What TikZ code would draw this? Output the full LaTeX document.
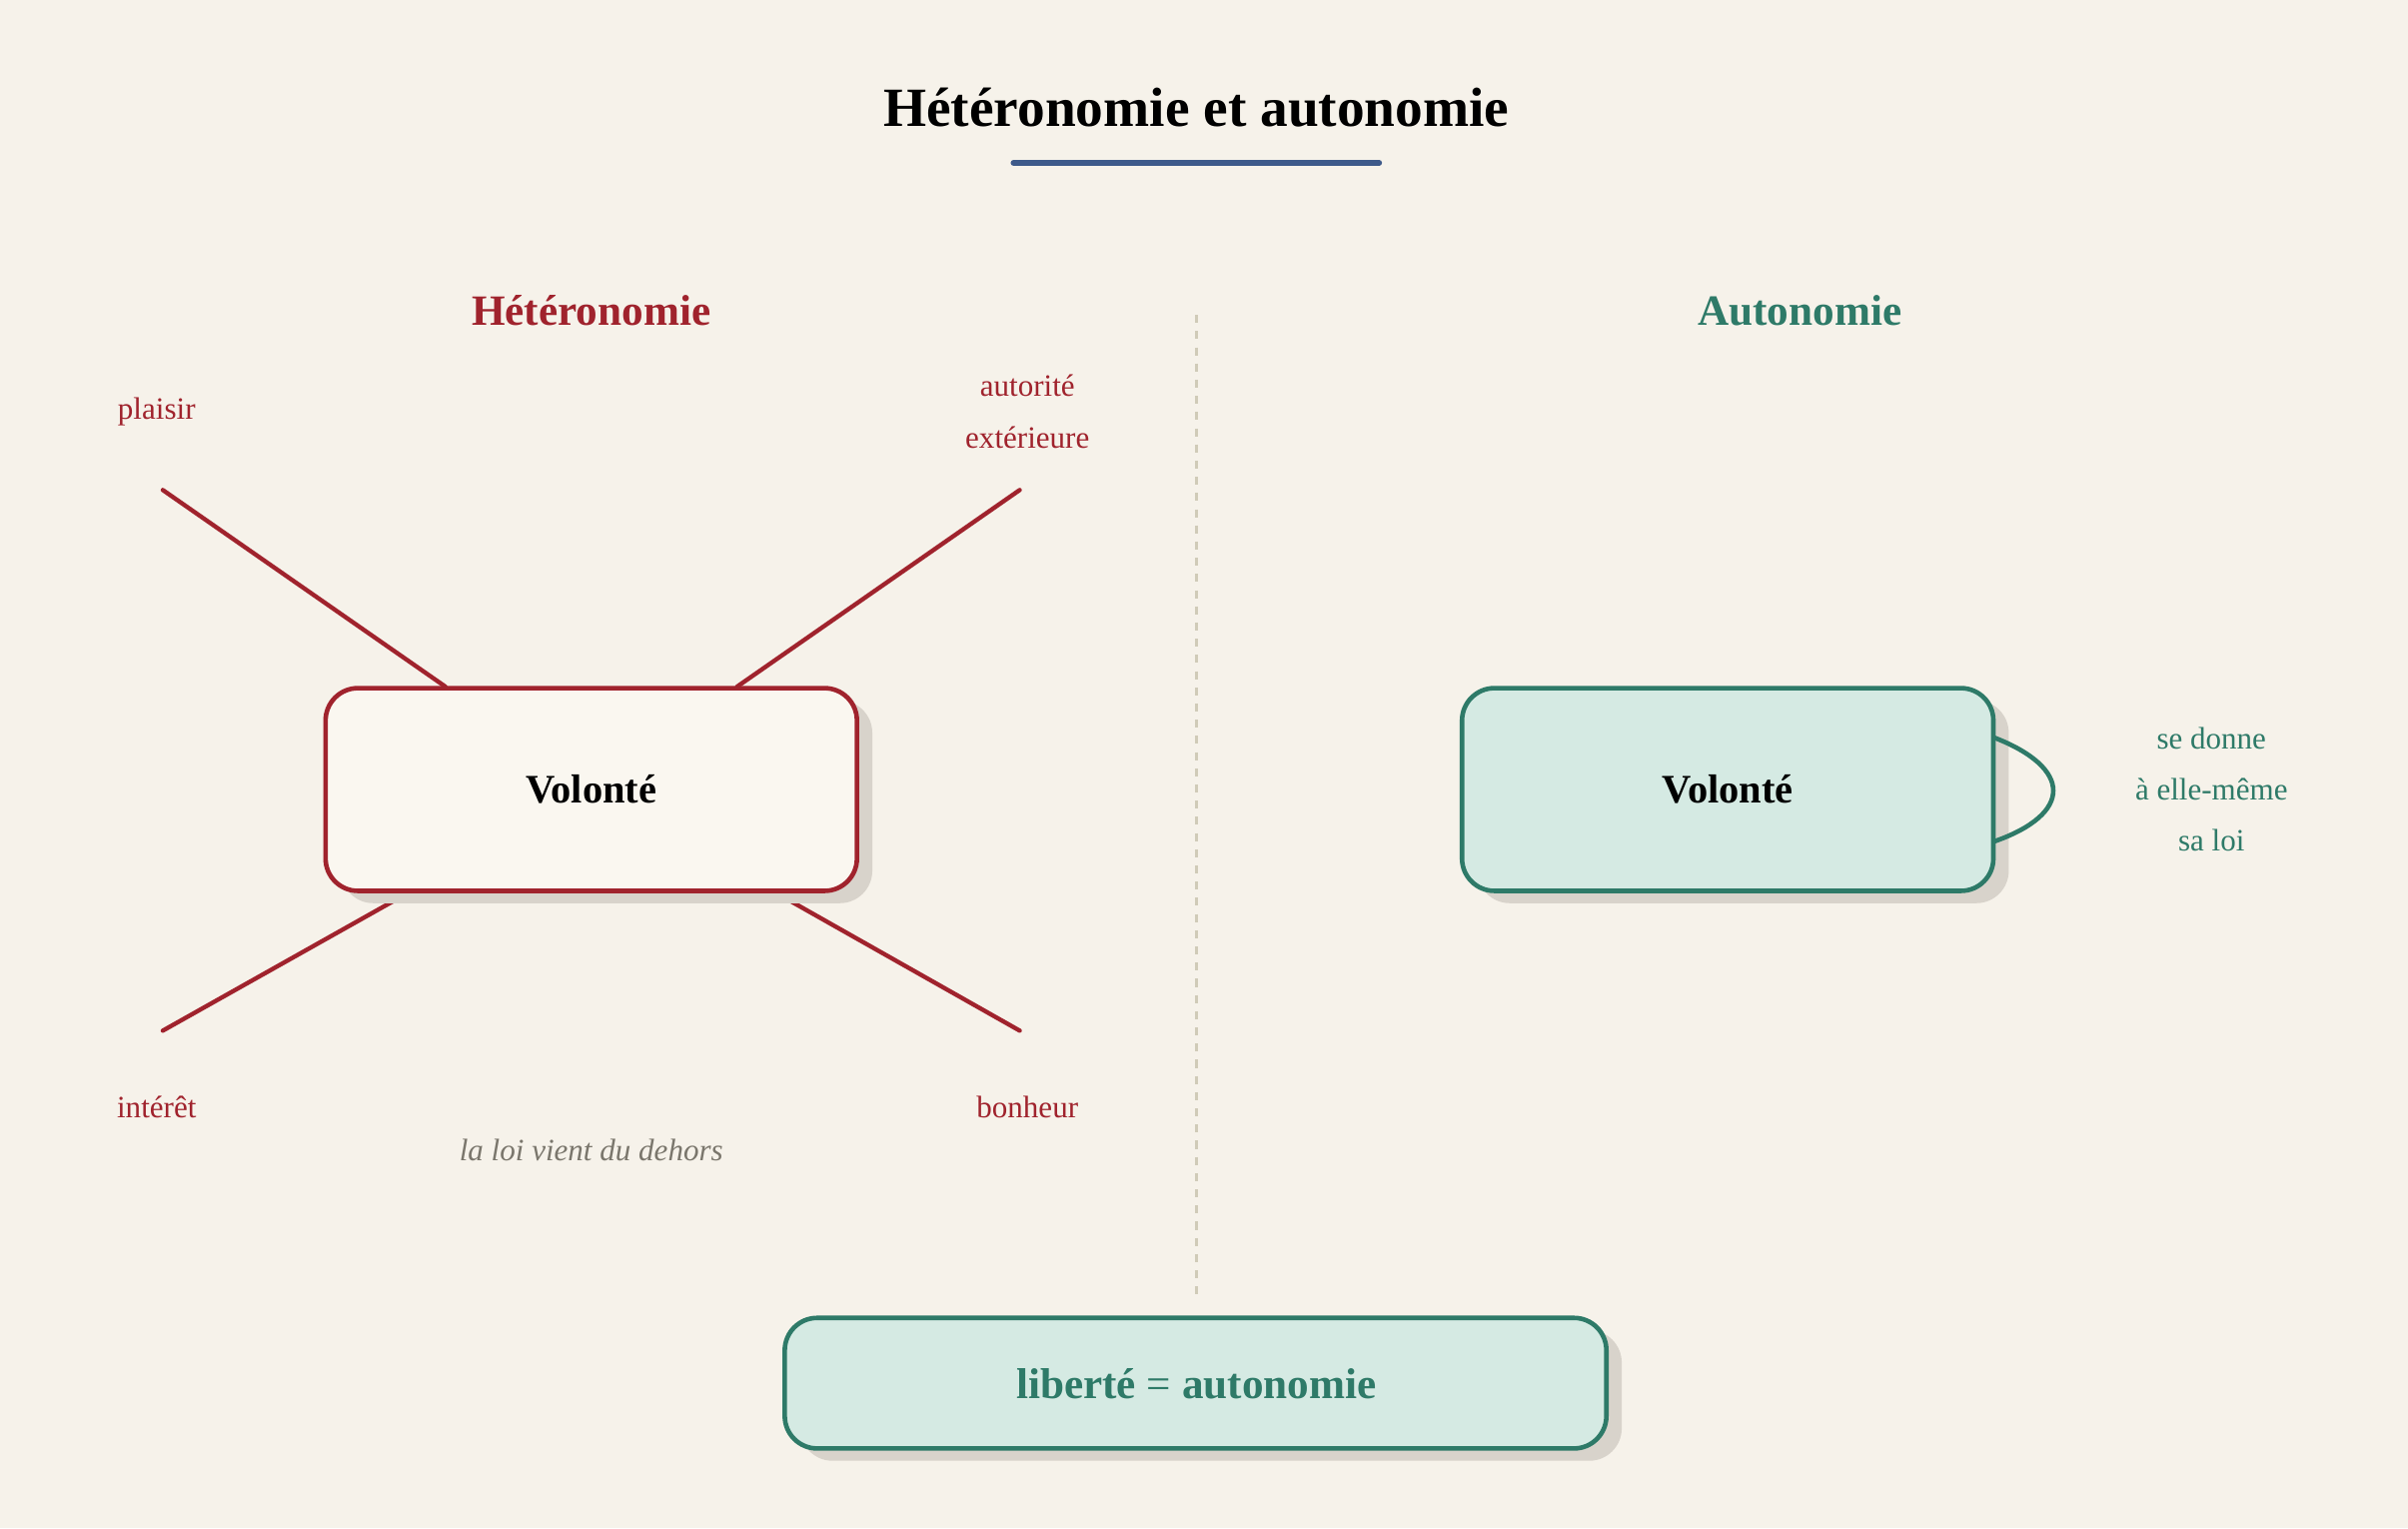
\documentclass[tikz,border=0pt]{standalone}
\usepackage{fontspec}
\setmainfont{Liberation Serif}
\definecolor{bg}{HTML}{F6F2EA}
\definecolor{redc}{HTML}{A0232D}
\definecolor{greenc}{HTML}{2E7A68}
\definecolor{greenf}{HTML}{D5EAE3}
\definecolor{lightf}{HTML}{FAF7F0}
\definecolor{shad}{HTML}{D8D3CB}
\definecolor{bluec}{HTML}{3E5A8A}
\definecolor{grayt}{HTML}{7A766C}
\definecolor{divc}{HTML}{D0CBB8}
\tikzset{
  box/.style={draw, rounded corners=12pt, line width=1.7pt},
  shadowbox/.style={fill=shad, rounded corners=12pt},
  lbl/.style={font=\fontsize{11.5}{19}\selectfont, align=center},
  spoke/.style={redc, line width=1.6pt, line cap=round}
}
\begin{document}
\begin{tikzpicture}[x=0.02cm,y=-0.02cm]
\fill[bg] (0,0) rectangle (1568,995);
\useasboundingbox (0,0) rectangle (1568,995);
\node (title) at (779,70) {\fontsize{20.5}{24}\selectfont\bfseries Hétéronomie et autonomie};
\draw[bluec, line width=2.2pt, line cap=round] (660,106) -- (898,106);
\node[redc] (h) at (385,202) {\fontsize{16}{20}\selectfont\bfseries Hétéronomie};
\node[greenc] (a) at (1172,202) {\fontsize{16}{20}\selectfont\bfseries Autonomie};
\draw[divc, dashed, line width=1.1pt] (779,205) -- (779,845);
% left
\coordinate (p1) at (106,319); \coordinate (p2) at (664,319);
\coordinate (p3) at (106,671); \coordinate (p4) at (664,671);
\coordinate (q1) at (290,447); \coordinate (q2) at (480,447);
\coordinate (q3) at (268,580); \coordinate (q4) at (503,580);
\draw[spoke] (p1) -- (q1); \draw[spoke] (p2) -- (q2);
\draw[spoke] (p3) -- (q3); \draw[spoke] (p4) -- (q4);
\fill[shadowbox] (222,456) rectangle (568,588);
\draw[box, redc, fill=lightf] (212,448) rectangle (558,580);
\node (v1) at (385,514) {\fontsize{15}{18}\selectfont\bfseries Volonté};
\node[lbl, redc] (l1) at (102,268) {plaisir};
\node[lbl, redc] (l2) at (669,268) {autorité\\extérieure};
\node[lbl, redc] (l3) at (102,721) {intérêt};
\node[lbl, redc] (l4) at (669,721) {bonheur};
\node[lbl, grayt] (l5) at (385,749) {\itshape la loi vient du dehors};
% right
\fill[shadowbox] (962,456) rectangle (1308,588);
\draw[greenc, line width=1.7pt] (1298,480) .. controls (1350,500) and (1350,530) .. (1298,548);
\draw[box, greenc, fill=greenf] (952,448) rectangle (1298,580);
\node (v2) at (1125,514) {\fontsize{15}{18}\selectfont\bfseries Volonté};
\node[lbl, greenc] (l6) at (1440,514) {se donne\\à elle-même\\sa loi};
% bottom
\fill[shadowbox] (521,866) rectangle (1056,951);
\draw[box, greenc, fill=greenf] (511,858) rectangle (1046,943);
\node[greenc] (lib) at (779,901) {\fontsize{16}{20}\selectfont\bfseries liberté {\mdseries=} autonomie};
\end{tikzpicture}
\end{document}
